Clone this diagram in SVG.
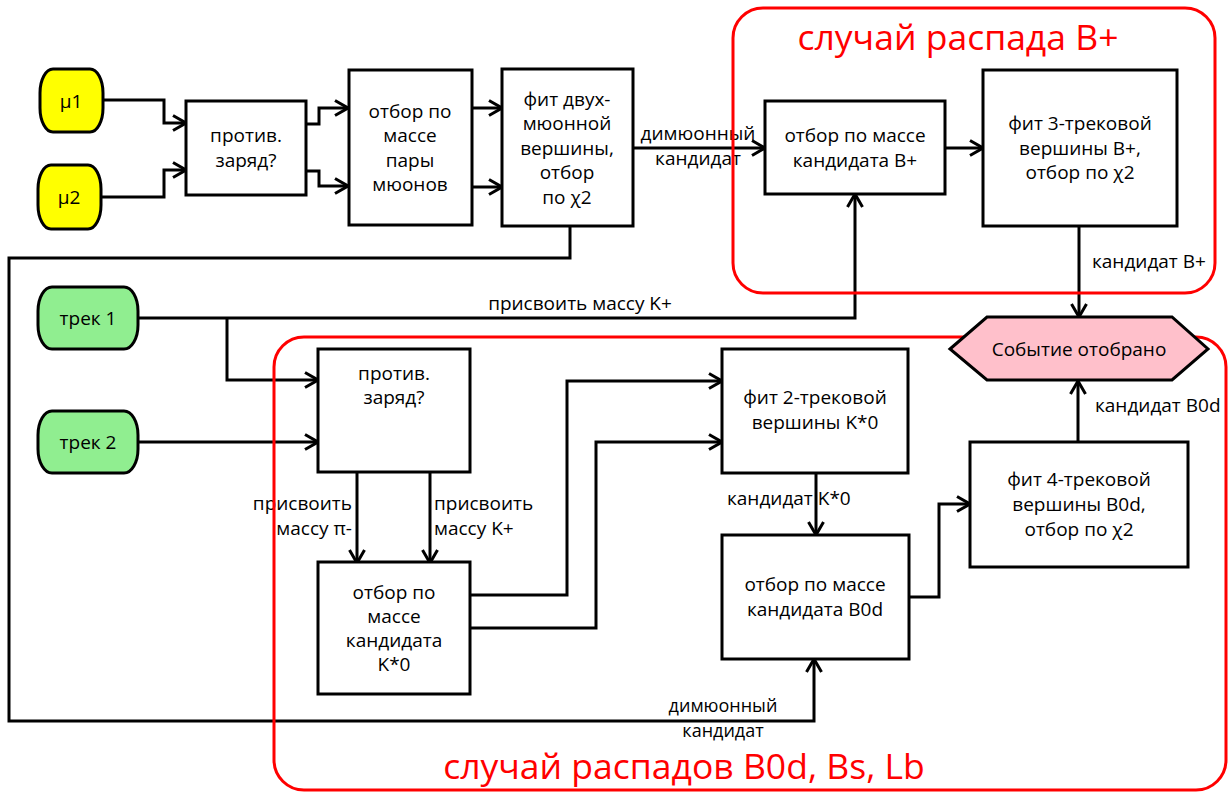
<svg xmlns="http://www.w3.org/2000/svg" width="1229" height="794" viewBox="0 0 1229 794">
<defs>
<marker id="arr" markerUnits="userSpaceOnUse" markerWidth="16" markerHeight="18" viewBox="0 0 16 18" refX="15" refY="9" orient="auto">
<path d="M2,1.5 L15,9 L2,16.5" fill="none" stroke="#000" stroke-width="3"/>
</marker>
</defs>
<style>
text{font-family:"Open Sans","DejaVu Sans",sans-serif;font-size:19px;fill:#000}
.c{text-anchor:middle}
.sm{font-size:18px}
.box{fill:#fff;stroke:#000;stroke-width:3}
.con{fill:none;stroke:#000;stroke-width:3}
.a{marker-end:url(#arr)}
.grp{fill:none;stroke:#f00;stroke-width:3}
.title{font-size:35.5px;fill:#f00;text-anchor:middle}
.mu{fill:#ffff00;stroke:#000;stroke-width:3}
.tr{fill:#90ee90;stroke:#000;stroke-width:3}
</style>
<rect width="1229" height="794" fill="#fff"/>
<g id="connectors">
<path class="con a" d="M103,100 H164 V123 H186"/>
<path class="con a" d="M101,197 H164 V170 H186"/>
<path class="con a" d="M306,124 H319 V108 H348"/>
<path class="con a" d="M306,171 H319 V186 H348"/>
<path class="con a" d="M472,108 H502"/>
<path class="con a" d="M472,187 H502"/>
<path class="con a" d="M633,148 H765"/>
<path class="con a" d="M945,148 H983"/>
<path class="con a" d="M1079,226 V317"/>
<path class="con a" d="M138,318 H855 V194"/>
<path class="con a" d="M227,318 V380 H318"/>
<path class="con a" d="M138,442 H318"/>
<path class="con a" d="M357,472 V563"/>
<path class="con a" d="M430,472 V563"/>
<path class="con a" d="M470,595 H567 V381 H722"/>
<path class="con a" d="M470,628 H596 V442 H722"/>
<path class="con a" d="M816,473 V535"/>
<path class="con a" d="M908,597 H939 V504 H970"/>
<path class="con a" d="M1078,442 V381"/>
<path class="con a" d="M570,226 V258 H9 V721 H814 V659"/>
<text class="c" x="698" y="140">димюонный</text>
<text class="c" x="698" y="165">кандидат</text>
<text x="1092" y="268">кандидат B+</text>
<text class="c" x="580" y="310">присвоить массу K+</text>
<text x="352" y="510" text-anchor="end">присвоить</text>
<text x="352" y="535" text-anchor="end">массу π-</text>
<text x="434" y="510">присвоить</text>
<text x="434" y="535">массу K+</text>
<text x="727" y="505">кандидат K*0</text>
<text x="1095" y="412">кандидат B0d</text>
<text class="c sm" x="723" y="712">димюонный</text>
<text class="c sm" x="723" y="737">кандидат</text>
</g>
<g id="group-bplus">
<rect class="grp" x="733" y="8" width="482" height="285" rx="30"/>
<text class="title" x="958" y="50">случай распада B+</text>
</g>
<g id="group-b0d">
<rect class="grp" x="274" y="337" width="952" height="453" rx="30"/>
<text class="title" x="684" y="779">случай распадов B0d, Bs, Lb</text>
</g>
<g id="mu1"><rect class="mu" x="40" y="69" width="63" height="63" rx="13" ry="24"/><text class="c" x="71" y="108">μ1</text></g>
<g id="mu2"><rect class="mu" x="38" y="165" width="63" height="64" rx="13" ry="24"/><text class="c" x="69" y="204">μ2</text></g>
<g id="charge1"><rect class="box" x="186" y="101" width="120" height="94"/><text class="c" x="246" y="142">против.</text><text class="c" x="246" y="167">заряд?</text></g>
<g id="masspair"><rect class="box" x="349" y="70" width="123" height="155"/><text class="c" x="410" y="118">отбор по</text><text class="c" x="410" y="142">массе</text><text class="c" x="410" y="167">пары</text><text class="c" x="410" y="191">мюонов</text></g>
<g id="fitdimu"><rect class="box" x="502" y="69" width="131" height="157"/><text class="c" x="567" y="106">фит двух-</text><text class="c" x="567" y="130">мюонной</text><text class="c" x="567" y="155">вершины,</text><text class="c" x="567" y="179">отбор</text><text class="c" x="567" y="204">по χ2</text></g>
<g id="massbplus"><rect class="box" x="765" y="101" width="180" height="93"/><text class="c" x="855" y="142">отбор по массе</text><text class="c" x="855" y="167">кандидата B+</text></g>
<g id="fit3"><rect class="box" x="983" y="70" width="194" height="156"/><text class="c" x="1080" y="130">фит 3-трековой</text><text class="c" x="1080" y="155">вершины B+,</text><text class="c" x="1080" y="179">отбор по χ2</text></g>
<g id="track1"><rect class="tr" x="38" y="287" width="100" height="62" rx="14" ry="24"/><text class="c" x="88" y="325">трек 1</text></g>
<g id="track2"><rect class="tr" x="38" y="411" width="100" height="62" rx="14" ry="24"/><text class="c" x="88" y="449">трек 2</text></g>
<g id="charge2"><rect class="box" x="318" y="349" width="152" height="123"/><text class="c" x="394" y="380">против.</text><text class="c" x="394" y="404">заряд?</text></g>
<g id="masskstar"><rect class="box" x="318" y="562" width="152" height="132"/><text class="c" x="394" y="599">отбор по</text><text class="c" x="394" y="623">массе</text><text class="c" x="394" y="647">кандидата</text><text class="c" x="394" y="671">K*0</text></g>
<g id="fit2"><rect class="box" x="722" y="349" width="186" height="124"/><text class="c" x="815" y="404">фит 2-трековой</text><text class="c" x="815" y="429">вершины K*0</text></g>
<g id="massb0d"><rect class="box" x="722" y="535" width="187" height="124"/><text class="c" x="815" y="591">отбор по массе</text><text class="c" x="815" y="616">кандидата B0d</text></g>
<g id="fit4"><rect class="box" x="970" y="442" width="218" height="125"/><text class="c" x="1079" y="486">фит 4-трековой</text><text class="c" x="1079" y="511">вершины B0d,</text><text class="c" x="1079" y="536">отбор по χ2</text></g>
<g id="selected"><path d="M950,349 L987,317 H1172 L1208,349 L1172,380 H987 Z" fill="#ffc0cb" stroke="#000" stroke-width="3"/><text class="c" x="1079" y="356">Событие отобрано</text></g>
</svg>
